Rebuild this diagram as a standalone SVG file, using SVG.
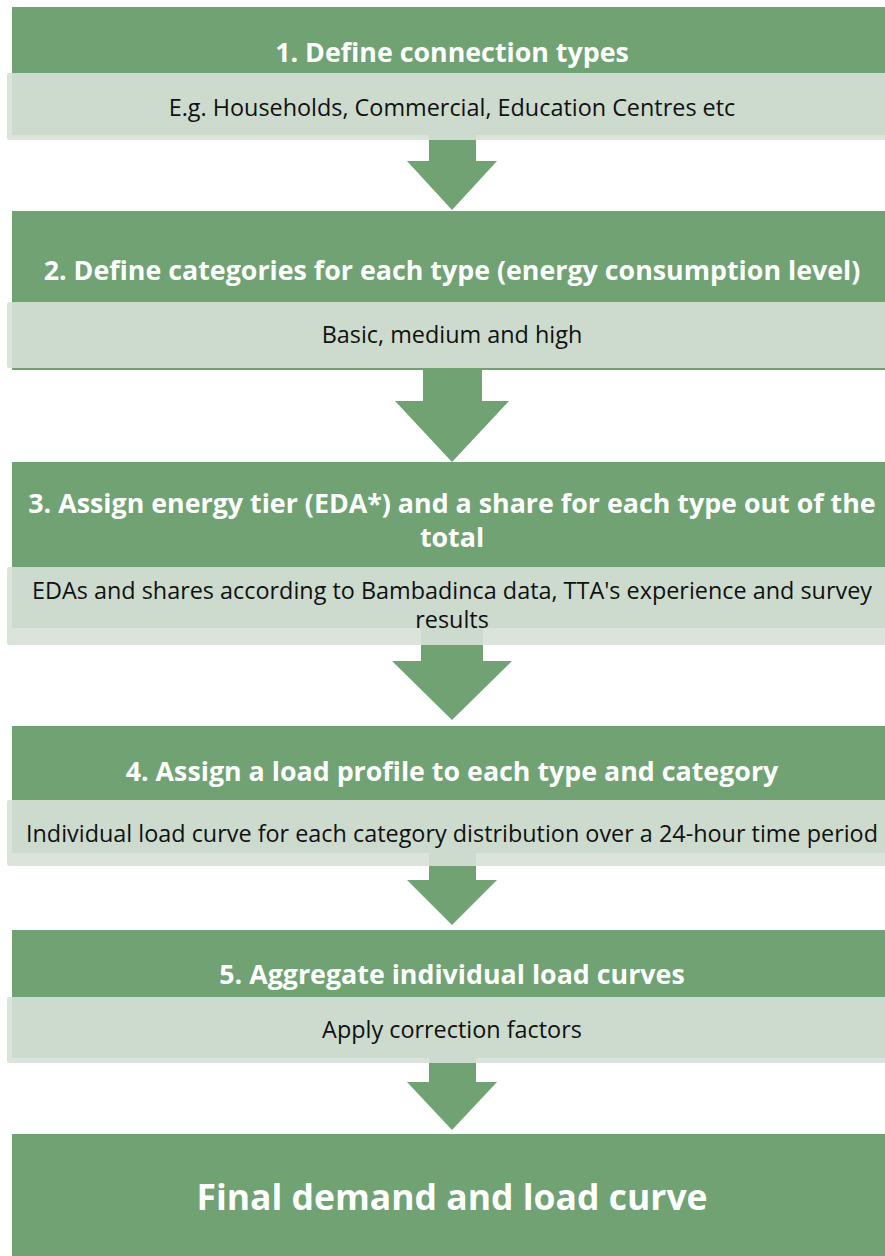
<svg xmlns="http://www.w3.org/2000/svg" width="885" height="1256" viewBox="0 0 885 1256">
  <style>
    .step { fill: #70a274; }
    .note { fill: #d6e1d7; fill-opacity: 0.9; }
    .arrow { fill: #70a274; }
    .title { font-family: "Open Sans", "Liberation Sans", sans-serif; font-weight: bold; font-size: 26.8px; fill: #ffffff; text-anchor: middle; }
    .body { font-family: "Open Sans", "Liberation Sans", sans-serif; font-size: 23.4px; fill: #111111; text-anchor: middle; }
    .final { font-family: "Open Sans", "Liberation Sans", sans-serif; font-weight: bold; font-size: 35.5px; fill: #ffffff; text-anchor: middle; }
  </style>
  <rect width="885" height="1256" fill="#ffffff"/>

  <!-- block arrows between the steps -->
  <g id="connectors">
    <polygon class="arrow" points="429,130 476,130 476,161 497,161 452,210 407,161 429,161"/>
    <polygon class="arrow" points="423,365 482,365 482,401 509,401 452,462 395,401 423,401"/>
    <polygon class="arrow" points="421,625 483,625 483,661 512,661 452,720 392,661 421,661"/>
    <polygon class="arrow" points="429,850 476,850 476,880 497,880 452,925 407,880 429,880"/>
    <polygon class="arrow" points="429,1055 476,1055 476,1082 497,1082 452,1130 407,1082 429,1082"/>
  </g>

  <g id="step1">
    <rect class="step" x="12" y="7" width="880" height="128"/>
    <rect class="note" x="7" y="73" width="885" height="67" rx="2"/>
    <text class="title" x="452" y="62">1. Define connection types</text>
    <text class="body" x="452" y="116">E.g. Households, Commercial, Education Centres etc</text>
  </g>

  <g id="step2">
    <rect class="step" x="12" y="211" width="880" height="159"/>
    <rect class="note" x="7" y="302" width="885" height="66" rx="2"/>
    <text class="title" x="452" y="280">2. Define categories for each type (energy consumption level)</text>
    <text class="body" x="452" y="343">Basic, medium and high</text>
  </g>

  <g id="step3">
    <rect class="step" x="12" y="462" width="880" height="166"/>
    <rect class="note" x="7" y="567" width="885" height="78" rx="2"/>
    <text class="title" x="452" y="513">3. Assign energy tier (EDA*) and a share for each type out of the</text>
    <text class="title" x="452" y="547">total</text>
    <text class="body" x="452" y="599">EDAs and shares according to Bambadinca data, TTA's experience and survey</text>
    <text class="body" x="452" y="628">results</text>
  </g>

  <g id="step4">
    <rect class="step" x="12" y="726" width="880" height="127"/>
    <rect class="note" x="7" y="800" width="885" height="66" rx="2"/>
    <text class="title" x="452" y="781">4. Assign a load profile to each type and category</text>
    <text class="body" x="452" y="842">Individual load curve for each category distribution over a 24-hour time period</text>
  </g>

  <g id="step5">
    <rect class="step" x="12" y="930" width="880" height="128"/>
    <rect class="note" x="7" y="997" width="885" height="66" rx="2"/>
    <text class="title" x="452" y="984">5. Aggregate individual load curves</text>
    <text class="body" x="452" y="1038">Apply correction factors</text>
  </g>

  <g id="result">
    <rect class="step" x="12" y="1134" width="880" height="130"/>
    <text class="final" x="452" y="1210">Final demand and load curve</text>
  </g>
</svg>
